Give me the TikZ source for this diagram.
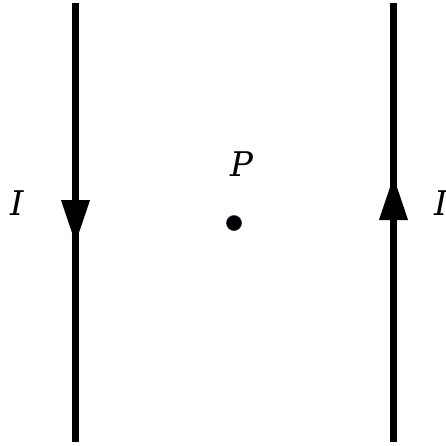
\documentclass[tikz,border=0pt]{standalone}
\usepackage{fontspec}
\setmainfont{DejaVu Serif}
\usepackage{tikz}
\usetikzlibrary{arrows.meta}
\definecolor{dotEdge}{HTML}{1A2440}

\begin{document}
\begin{tikzpicture}[x=1pt, y=-1pt,
    wire/.style={line width=7pt, black},
    flow/.style={line width=7pt, -{Triangle[length=44pt, width=27pt]}},
    lbl/.style={font=\fontsize{34}{34}\selectfont\itshape, inner sep=0pt}]
  \useasboundingbox (0,0) rectangle (446,445);
  % wires
  \coordinate (ltop) at (75.5,3);
  \coordinate (lbot) at (75.5,442);
  \coordinate (ltip) at (75.5,244);
  \coordinate (rtop) at (393.5,3);
  \coordinate (rbot) at (393.5,442);
  \coordinate (rtip) at (393.5,176);
  \draw[wire] (ltop) -- (lbot);
  \draw[wire] (rtop) -- (rbot);
  \draw[flow] (ltop) -- (ltip);
  \draw[flow] (rbot) -- (rtip);
  % labels
  \node[lbl] (iLeft) at (17,203) {I};
  \node[lbl, anchor=west] (iRight) at (434,203) {I};
  \node[lbl] (pLabel) at (242,164) {P};
  \node[circle, fill=black, draw=dotEdge, line width=0.6pt, minimum size=15pt, inner sep=0pt] (pDot) at (234,223) {};
\end{tikzpicture}
\end{document}
